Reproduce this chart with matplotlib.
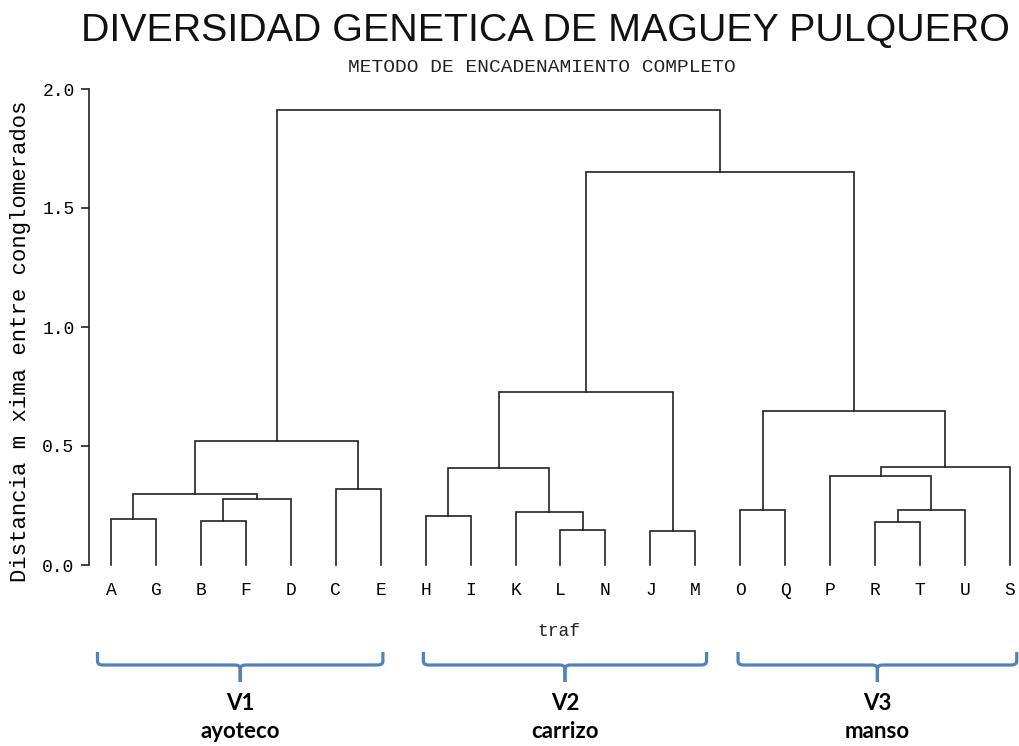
import matplotlib
matplotlib.use("Agg")
import matplotlib.pyplot as plt
from matplotlib.path import Path
from matplotlib.patches import PathPatch
import matplotlib.transforms as mtransforms

# leaf order as drawn on the x axis
leaves = ['A', 'G', 'B', 'F', 'D', 'C', 'E', 'H', 'I', 'K', 'L', 'N', 'J', 'M',
          'O', 'Q', 'P', 'R', 'T', 'U', 'S']

# merges: left child, right child, height (new node name = left + right)
merge_left = ['A', 'B', 'BF', 'AG', 'C', 'AGBFD', 'H', 'L', 'K', 'HI', 'J', 'HIKLN',
              'O', 'R', 'RT', 'P', 'PRTU', 'OQ', 'HIKLNJM', 'AGBFDCE']
merge_right = ['G', 'F', 'D', 'BFD', 'E', 'CE', 'I', 'N', 'LN', 'KLN', 'M', 'JM',
               'Q', 'T', 'U', 'RTU', 'S', 'PRTUS', 'OQPRTUS', 'HIKLNJMOQPRTUS']
merge_height = [0.195, 0.186, 0.276, 0.300, 0.318, 0.521, 0.207, 0.147, 0.224, 0.409,
                0.143, 0.726, 0.231, 0.182, 0.231, 0.374, 0.413, 0.648, 1.652, 1.912]

yticks = [0.0, 0.5, 1.0, 1.5, 2.0]

group_names = ['V1', 'V2', 'V3']
group_labels = ['ayoteco', 'carrizo', 'manso']
group_start = [-0.3, 6.95, 13.95]
group_end = [6.05, 13.25, 20.15]

mono = ['Liberation Mono', 'DejaVu Sans Mono']
sans = ['Liberation Sans', 'DejaVu Sans']

fig = plt.figure(figsize=(10.19, 7.46), dpi=100)
W, H = 1019, 746
ax = fig.add_axes([88.5 / W, (H - 565) / H, (W - 88.5) / W, 476 / H])

# positions of nodes
xpos = {name: i for i, name in enumerate(leaves)}
ypos = {name: 0.0 for name in leaves}
for l, r, h in zip(merge_left, merge_right, merge_height):
    xl, xr = xpos[l], xpos[r]
    ax.plot([xl, xl, xr, xr], [ypos[l], h, h, ypos[r]], color='#222222', lw=1.2,
            solid_joinstyle='miter', clip_on=False)
    xpos[l + r] = (xl + xr) / 2
    ypos[l + r] = h

ax.set_xlim(-0.5, (W - 88.5) / 44.95 - 0.5)
ax.set_ylim(0, 2.0)
for s in ['top', 'right', 'bottom']:
    ax.spines[s].set_visible(False)
ax.spines['left'].set_color('#222222')
ax.spines['left'].set_linewidth(1.2)
ax.set_yticks(yticks)
ax.set_yticklabels(['%.1f' % v for v in yticks], family=mono, fontsize=13)
ax.tick_params(axis='y', length=6, width=1.2, color='#222222', pad=4)
ax.set_xticks(range(len(leaves)))
ax.set_xticklabels(leaves, family=mono, fontsize=13)
ax.tick_params(axis='x', length=0, pad=12)

ax.set_ylabel('Distancia m xima entre conglomerados', family=mono, fontsize=16)
ax.yaxis.set_label_coords(-0.062, 0.47)

fig.text(559 / W, 1 - 631 / H, 'traf', family=mono, fontsize=13,
         ha='center', va='center', color='#222222')

title = fig.text(545 / W, 1 - 31 / H, 'DIVERSIDAD GENETICA DE MAGUEY PULQUERO',
                 family=sans, fontsize=30, ha='center', va='center', color='#111111')
# shrink/grow the title so it spans the same width as in the original
renderer = fig.canvas.get_renderer()
tw = title.get_window_extent(renderer).width
title.set_fontsize(30 * 930 / tw)

fig.text(542 / W, 1 - 68 / H, 'METODO DE ENCADENAMIENTO COMPLETO',
         family=mono, fontsize=14, ha='center', va='center', color='#222222')

# group brackets below the tree
trans = mtransforms.blended_transform_factory(ax.transData, fig.transFigure)
ytop = 1 - 652 / H
ymid = 1 - 665 / H
ytip = 1 - 682 / H
rc = 0.12
rv = 4 / H
codes = [Path.MOVETO, Path.LINETO, Path.CURVE3, Path.CURVE3,
         Path.LINETO, Path.CURVE3, Path.CURVE3, Path.LINETO]
for x0, x1, name, lab in zip(group_start, group_end, group_names, group_labels):
    xc = (x0 + x1) / 2
    verts = [(x0, ytop), (x0, ymid + rv), (x0, ymid), (x0 + rc, ymid),
             (xc - rc, ymid), (xc, ymid), (xc, ymid - rv), (xc, ytip)]
    ax.add_patch(PathPatch(Path(verts, codes), transform=trans, fill=False,
                           edgecolor='#4f81bd', lw=2.3, clip_on=False))
    verts = [(xc, ytip), (xc, ymid - rv), (xc, ymid), (xc + rc, ymid),
             (x1 - rc, ymid), (x1, ymid), (x1, ymid + rv), (x1, ytop)]
    ax.add_patch(PathPatch(Path(verts, codes), transform=trans, fill=False,
                           edgecolor='#4f81bd', lw=2.3, clip_on=False))
    ax.text(xc, 1 - 703 / H, name, transform=trans, ha='center', va='center',
            family=['Lato', 'DejaVu Sans'], fontweight='bold', fontsize=16)
    ax.text(xc, 1 - 732 / H, lab, transform=trans, ha='center', va='center',
            family=['Lato', 'DejaVu Sans'], fontweight='bold', fontsize=16)

plt.savefig('out.png', dpi=100)
